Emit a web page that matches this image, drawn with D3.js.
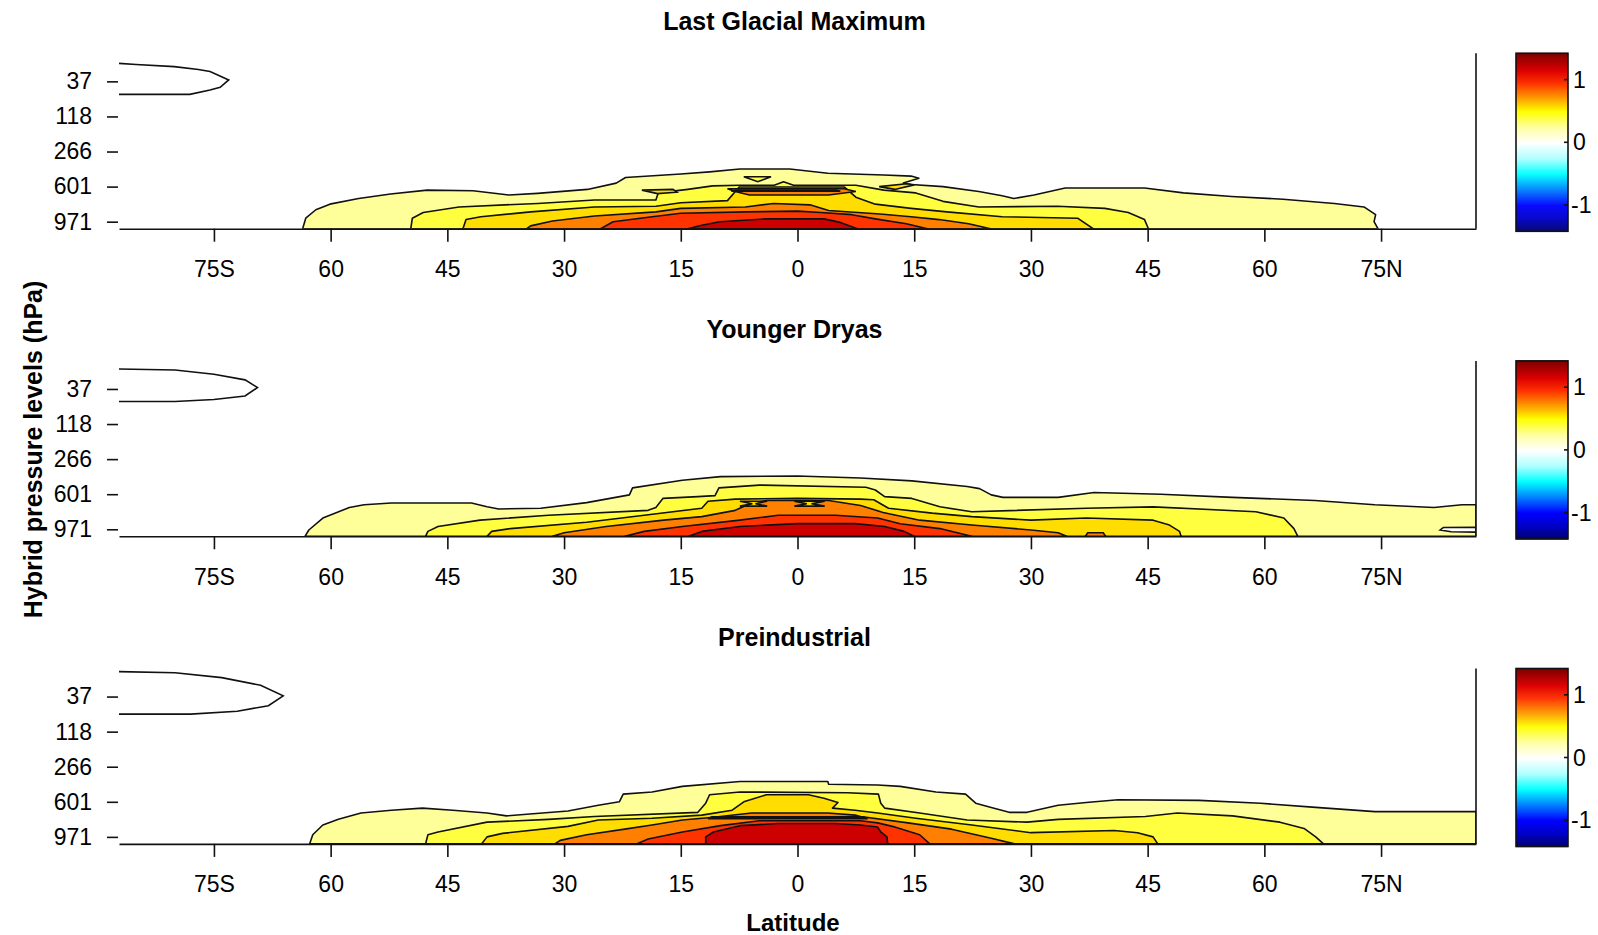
<!DOCTYPE html>
<meta charset="utf-8">
<style>
body { margin: 0; background: #fff; }
text { font-family: "Liberation Sans", Arial, Helvetica, sans-serif; fill: #000; }
</style>
<svg width="1598" height="935"></svg>
<script src="https://d3js.org/d3.v7.min.js"></script>
<script>

// hybrid level midpoints (hPa), top of model to surface
var hybridLevels = [3.54, 7.39, 13.97, 23.94, 37.23, 53.11, 70.06, 85.44, 100.51, 118.25, 139.12, 163.66, 192.54,
  226.51, 266.48, 313.50, 368.82, 433.90, 510.46, 600.52, 696.80, 787.70, 867.16, 929.65, 970.55, 992.56];
var levelTicks = [4, 9, 14, 19, 24];
var latTicks = [-75, -60, -45, -30, -15, 0, 15, 30, 45, 60, 75];
var latLabels = ["75S", "60", "45", "30", "15", "0", "15", "30", "45", "60", "75N"];
var titles = ["Last Glacial Maximum", "Younger Dryas", "Preindustrial"];

// filled contour bands (0 = below first level)
var bandColors = ["#ffffff", "#ffff99", "#ffff40", "#ffdd00", "#ff8000", "#ff3300", "#cc0000"];

// colour bar
var cbarStops = [-1.42, -1.2, -1.0, -0.75, -0.5, -0.25, 0, 0.25, 0.5, 0.72, 0.95, 1.15, 1.42];
var cbarColors = ["#000070", "#0000c8", "#0000ff", "#0080ff", "#00ffff", "#b0ffff", "#ffffff",
  "#ffffa0", "#ffff00", "#ff9900", "#ff3300", "#dd0000", "#800000"];
var cbarTicks = [-1, 0, 1];

// contour outlines, [latitude, level index], traced from the surface up
var lgmBands = [
  [[-63.6,25],[-63.2,23.5],[-61.9,22.3],[-60.1,21.5],[-56.4,20.7],[-52.3,20.05],[-47.6,19.5],[-41.7,19.6],[-37.1,20.2],[-33.4,19.96],[-27,19.4],[-23.3,18.5],[-22.1,17.7],[-15,17.2],[-11.3,16.9],[-7.4,16.5],[-1,16.5],[3.9,17.1],[11.1,17.35],[14.6,17.5],[15.6,17.8],[13.6,18.5],[14.6,18.7],[18.7,19],[23.3,19.7],[26.3,20.3],[27.8,20.7],[30.4,20.2],[34.4,19.2],[44.6,19.2],[49.6,19.9],[55.8,20.4],[62.4,20.8],[69,21.4],[72.8,21.9],[74.3,23],[74.1,24],[74.6,25]],
  [[-49.7,25],[-49.5,23.5],[-48.1,22.7],[-43.5,21.9],[-33.4,21.4],[-26.1,20.9],[-18.2,20.9],[-17.9,19.9],[-14.1,19.4],[-10.9,18.9],[-7.4,18.8],[-3,18.8],[-1.8,18.3],[-0.5,18.8],[7.5,18.8],[11.1,19.5],[15.2,19.9],[18.7,21.1],[23.3,21.9],[33.4,21.8],[39.5,22.1],[42.5,22.7],[44.6,23.7],[45.1,25]],
  [[-43,25],[-42.6,23.7],[-40.7,23.3],[-34.3,22.6],[-26.1,21.9],[-18.2,21.8],[-15,21.3],[-9,21],[-7.5,19.05],[6,19.05],[7.5,20.5],[10,21.5],[14.6,22.1],[19.2,22.6],[26.3,23.3],[36,23.5],[38,25]],
  [[-34.8,25],[-34.3,24.6],[-31.5,23.9],[-26.1,23.2],[-18.2,22.6],[-15,22.1],[-6.7,21.9],[-3.1,21.4],[1.6,21.6],[4,22.4],[10.6,22.9],[14.6,23.3],[18.2,23.7],[22,24.3],[24.8,25]],
  [[-25.3,25],[-23.7,24],[-18.7,23.3],[-15,22.8],[-6.7,22.6],[0,22.5],[3,22.7],[7,23],[10,23.6],[14,24.3],[16.7,25]],
  [[-14.1,25],[-12.3,24.5],[-10,24],[-4,23.6],[3.4,23.6],[5.5,24.1],[7.7,25]]
];
var lgmIslands = [
  {band: 2, pts: [[-6.9,17.6],[-3.4,17.6],[-5.1,18.3]]},
  {band: 4, pts: [[-9,19.3],[6,19.3],[7.5,19.7],[4,20.2],[-6.2,20.2],[-8,19.7]]},
  {band: 3, pts: [[-8,19.5],[5,19.5],[5.5,19.65],[-8.5,19.65]]},
  {band: 3, pts: [[10.5,19.0],[14,18.6],[15,18.75],[12.5,19.4]]},
  {band: 3, pts: [[-20,19.5],[-16,19.4],[-15.5,19.8],[-18,20]]}
];
var lgmPole = [[-87.2,1.43],[-85,1.6],[-80.1,1.9],[-77,2.3],[-75.5,2.6],[-73.1,3.8],[-74.2,4.85],[-75.5,5.24],[-78.1,5.85],[-87.2,5.85]];

var ydBands = [
  [[-63.3,25],[-62.8,24.1],[-61,22.4],[-57.6,20.9],[-55.7,20.5],[-52.2,20.25],[-41.9,20.25],[-39.9,20.8],[-38.4,21.1],[-33,21],[-27.1,20.2],[-21.6,19.1],[-21.2,18.1],[-14.8,17],[-9.9,16.5],[0,16.4],[8.1,16.7],[14.7,17.1],[21.8,17.9],[23.4,18.2],[24.9,19.1],[26.4,19.45],[33.5,19.45],[38.1,18.75],[46.7,19],[55.9,19.45],[66.5,19.9],[74.2,20.5],[81.8,20.9],[85.4,20.5],[87.2,20.5],[87.2,25]],
  [[-47.8,25],[-47.5,24.3],[-46.2,23.6],[-40.8,22.7],[-32,22],[-19.2,21.3],[-18.2,20.9],[-17.3,19.6],[-12.8,19.35],[-10.6,19.2],[-10.1,18.1],[-4.9,17.7],[8.8,18],[10,18.4],[11.2,19.35],[14.7,19.6],[18.3,20.8],[22.4,21.5],[37.1,21],[45.7,20.8],[58.9,21.5],[62.5,22.4],[63.8,23.9],[64.3,25]],
  [[-39.9,25],[-39.3,24.3],[-36.9,23.9],[-27.1,23],[-19.7,22],[-12.3,21],[-11.5,20],[-8,19.7],[0,19.6],[8.1,19.7],[9.8,19.8],[11.7,21],[17.3,21.7],[22.4,22.2],[30,22.7],[37.1,22.4],[45.7,22.7],[47.8,23.4],[49.1,24.3],[49.3,25]],
  [[-31.5,25],[-30,24.5],[-24.6,23.6],[-17.2,22.7],[-12.3,22.2],[-8,21.3],[-6,20.3],[-4,19.9],[4,19.9],[8.1,20.6],[11,21.6],[15.7,22.7],[22.4,23.4],[30,24.1],[33.5,24.5],[34.6,25]],
  [[-22.2,25],[-19.7,24.3],[-14.8,23.6],[-7.4,22.7],[-2.5,22],[4.9,22],[10.3,22.4],[13.2,23.2],[18.3,23.9],[22.4,25]],
  [[-14,25],[-12.3,24.3],[-7.4,23.6],[0,23.2],[7.4,23.2],[11.2,23.6],[13.7,24.3],[15,25]]
];
var ydIslands = [
  {band: 3, pts: [[-7.4,20.0],[-3.9,20.0],[-5.4,20.35],[-3.9,20.7],[-7.4,20.7],[-5.8,20.35]]},
  {band: 3, pts: [[-0.4,20.0],[3.5,20.0],[1.8,20.35],[3.5,20.7],[-0.4,20.7],[1.2,20.35]]},
  {band: 0, pts: [[87.2,23.7],[83,23.75],[82.6,24.1],[84,24.35],[87.2,24.4]]},
  {band: 4, pts: [[37,25],[37.3,24.5],[39.3,24.5],[39.6,25]]}
];
var ydPole = [[-87.2,1.15],[-80,1.3],[-75,1.9],[-71,2.7],[-69.4,3.8],[-71,5],[-75,5.5],[-80,5.78],[-87.2,5.78]];

var piBands = [
  [[-62.7,25],[-62.3,23.7],[-61,22.3],[-59,21.5],[-56.1,20.6],[-52.2,20.2],[-48.2,19.9],[-44.3,20.2],[-39.9,20.6],[-37.4,21],[-34,20.7],[-29.5,20.3],[-25.6,19.5],[-22.9,19],[-22.4,17.9],[-18.7,17.6],[-14.8,16.8],[-7.4,16.1],[3.9,16.1],[4,16.5],[10.3,16.6],[13.2,16.8],[17.8,17.6],[21.6,17.9],[22.9,19.2],[24.9,19.8],[27.2,20.5],[29.5,20.5],[33.5,19.5],[37.1,19.1],[41.2,18.7],[51.6,18.8],[59.5,19.2],[66.6,19.8],[74.2,20.4],[87.2,20.4],[87.2,25]],
  [[-47.8,25],[-47.5,23.7],[-46.2,23.3],[-39.9,21.9],[-32,21.5],[-26.1,21.1],[-12.8,20.5],[-11.8,19.2],[-11.3,18],[-7.4,17.6],[6.4,17.7],[10.4,17.9],[10.7,19.2],[11.2,19.9],[15.7,20.6],[21.8,21.6],[29.5,21.9],[33.5,21.5],[44.7,21.1],[48.8,20.6],[55.9,21],[62,21.9],[65.1,22.8],[66.6,24],[67.6,25]],
  [[-40.6,25],[-39.9,24],[-37.9,23.5],[-29.5,22.5],[-25.6,21.6],[-18.7,21.35],[-12.3,20.9],[-8.4,20.2],[-6.9,19],[-4,18],[1.4,18],[3.4,18.5],[5.2,19.1],[4.5,19.9],[7.4,20.2],[10.3,20.6],[15.2,21.35],[22.4,22.3],[30,23.4],[40.7,23.1],[43.7,23.4],[45.7,24],[46.3,25]],
  [[-31.2,25],[-30.5,24.5],[-27.1,23.7],[-22.2,22.9],[-18.7,22.3],[-14.8,21.6],[-10.8,21.2],[-5.9,20.6],[3.9,20.6],[7.4,20.9],[8.1,21.1],[14.2,22],[19.8,22.9],[24.9,24.2],[27.9,25]],
  [[-20.7,25],[-19.2,24.3],[-14.8,23.3],[-9.9,22.4],[-4.9,21.7],[3.9,21.7],[8.1,21.7],[10.3,22],[12.2,22.5],[15.7,23.7],[17,25]],
  [[-11.8,25],[-11.8,24],[-10.8,23.3],[-7.4,22.4],[-2.5,22.1],[4.9,22.1],[8.1,22.3],[10.3,22.6],[10.7,23.3],[11.5,24],[11.6,25]]
];
var piIslands = [
  {band: 3, pts: [[-11,21.15],[8.5,21.15],[9,21.4],[-11.5,21.4]]}
];
var piPole = [[-87.2,0.45],[-80,0.6],[-74,1.3],[-69,2.4],[-66.1,3.9],[-68,5.3],[-72,6.1],[-78,6.5],[-87.2,6.5]];

var panels = [
  {title: titles[0], bands: lgmBands, islands: lgmIslands, pole: lgmPole},
  {title: titles[1], bands: ydBands, islands: ydIslands, pole: ydPole},
  {title: titles[2], bands: piBands, islands: piIslands, pole: piPole}
];

var svg = d3.select("svg"),
    margin = {left: 119, right: 122},
    width = +svg.attr("width"),
    plotH = 175.4,
    panelStep = 307.6,
    firstTop = 53.3,
    cbarX = 1516, cbarW = 52, cbarH = 178;

var x = d3.scaleLinear().domain([-87.2, 87.2]).range([margin.left, width - margin.right]);

var cScale = d3.scaleLinear().domain(cbarStops).range(cbarColors);

panels.forEach(function(p, k) {
  var top = firstTop + k * panelStep;
  var y = d3.scaleLinear().domain([0, 25]).range([top, top + plotH]);
  var line = d3.line().x(function(d) { return x(d[0]); }).y(function(d) { return y(d[1]); });

  var g = svg.append("g");
  svg.append("clipPath").attr("id", "clip" + k)
    .append("rect")
      .attr("x", x.range()[0]).attr("y", top)
      .attr("width", x.range()[1] - x.range()[0]).attr("height", plotH);

  var plot = g.append("g").attr("clip-path", "url(#clip" + k + ")");

  plot.selectAll("path.band")
    .data(p.bands)
    .enter().append("path")
      .attr("class", "band")
      .attr("d", function(d) { return line(d) + "Z"; })
      .attr("fill", function(d, i) { return bandColors[i + 1]; })
      .attr("stroke", "#111")
      .attr("stroke-width", 1.6)
      .attr("stroke-linejoin", "round");

  plot.selectAll("path.island")
    .data(p.islands)
    .enter().append("path")
      .attr("class", "island")
      .attr("d", function(d) { return line(d.pts) + "Z"; })
      .attr("fill", function(d) { return bandColors[d.band]; })
      .attr("stroke", "#111")
      .attr("stroke-width", 1.6);

  plot.append("path")
    .attr("d", line(p.pole))
    .attr("fill", "none")
    .attr("stroke", "#111")
    .attr("stroke-width", 1.6);

  // axes
  var xAxis = g.append("g")
    .attr("transform", "translate(0," + (top + plotH) + ")")
    .call(d3.axisBottom(x).tickValues(latTicks)
      .tickFormat(function(d, i) { return latLabels[i]; })
      .tickSize(13).tickSizeOuter(0).tickPadding(19));
  xAxis.selectAll("text").attr("font-size", 23).style("font-family", "Liberation Sans, Arial, sans-serif");
  xAxis.selectAll("line, path").attr("stroke", "#111").attr("stroke-width", 1.6);

  var yAxis = g.append("g")
    .attr("transform", "translate(" + (x.range()[0] - 1) + ",0)")
    .call(d3.axisLeft(y).tickValues(levelTicks)
      .tickFormat(function(i) { return Math.round(hybridLevels[i]); })
      .tickSize(11).tickPadding(15));
  yAxis.select(".domain").remove();
  yAxis.selectAll("text").attr("font-size", 23).style("font-family", "Liberation Sans, Arial, sans-serif");
  yAxis.selectAll("line").attr("stroke", "#111").attr("stroke-width", 1.6);

  g.append("line")
    .attr("x1", x.range()[1]).attr("x2", x.range()[1])
    .attr("y1", top).attr("y2", top + plotH)
    .attr("stroke", "#111").attr("stroke-width", 1.6);

  g.append("text")
    .attr("x", (x.range()[0] + x.range()[1]) / 2 - 3)
    .attr("y", top - 23)
    .attr("text-anchor", "middle")
    .attr("font-size", 25)
    .attr("font-weight", "bold")
    .text(p.title);

  // colour bar
  var cy = d3.scaleLinear().domain([-1.42, 1.42]).range([top + cbarH, top]);
  var cb = g.append("g");
  cb.selectAll("rect")
    .data(d3.range(-1.42, 1.42, 0.016))
    .enter().append("rect")
      .attr("x", cbarX)
      .attr("width", cbarW)
      .attr("y", function(v) { return cy(v + 0.016); })
      .attr("height", Math.abs(cy(0) - cy(0.016)) + 0.6)
      .attr("fill", function(v) { return cScale(v + 0.008); });
  cb.append("rect")
    .attr("x", cbarX).attr("y", top).attr("width", cbarW).attr("height", cbarH)
    .attr("fill", "none").attr("stroke", "#111").attr("stroke-width", 1.6);
  cb.selectAll("line.tk")
    .data(cbarTicks)
    .enter().append("line")
      .attr("class", "tk")
      .attr("x1", cbarX + cbarW - 4).attr("x2", cbarX + cbarW)
      .attr("y1", function(v) { return cy(v); }).attr("y2", function(v) { return cy(v); })
      .attr("stroke", "#111").attr("stroke-width", 1.6);
  cb.selectAll("text")
    .data(cbarTicks)
    .enter().append("text")
      .attr("x", function(v) { return v < 0 ? cbarX + cbarW + 3 : cbarX + cbarW + 5; })
      .attr("y", function(v) { return cy(v) + 8; })
      .attr("font-size", 23)
      .text(function(v) { return v; });
});

svg.append("text")
  .attr("transform", "translate(42," + 449.5 + ") rotate(-90)")
  .attr("text-anchor", "middle")
  .attr("font-size", 25)
  .attr("font-weight", "bold")
  .text("Hybrid pressure levels (hPa)");

svg.append("text")
  .attr("x", 793)
  .attr("y", 931)
  .attr("text-anchor", "middle")
  .attr("font-size", 24)
  .attr("font-weight", "bold")
  .text("Latitude");

</script>
